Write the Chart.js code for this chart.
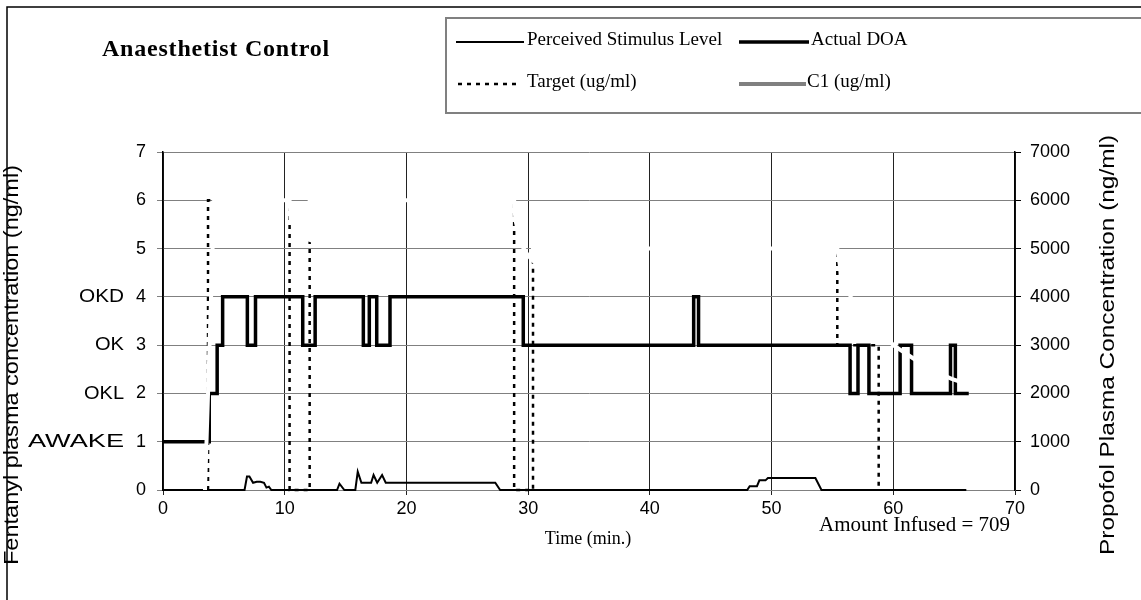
<!DOCTYPE html>
<html><head><meta charset="utf-8">
<script src="https://cdn.jsdelivr.net/npm/chart.js@4.4.1/dist/chart.umd.min.js"></script>
<style>html,body{margin:0;padding:0;background:#fff;overflow:hidden}#wrap{width:1141px;height:600px;position:relative}</style>
</head><body><div id="wrap"><canvas id="c" width="1141" height="600"></canvas></div>
<script>
// ---- texts ----
const chartTitle = 'Anaesthetist Control';
const xTitle = 'Time (min.)';
const yLeftTitle = 'Fentanyl plasma concentration (ng/ml)';
const yRightTitle = 'Propofol Plasma Concentration (ng/ml)';
const infusedNote = 'Amount Infused = 709';
const seriesNames = ['Perceived Stimulus Level', 'Actual DOA', 'Target (ug/ml)', 'C1 (ug/ml)'];
const doaLevels = [1, 2, 3, 4];
const doaLabels = ['AWAKE', 'OKL', 'OK', 'OKD'];
// ---- ticks ----
const xTicks = [0, 10, 20, 30, 40, 50, 60, 70];
const yLeftTicks = [0, 1, 2, 3, 4, 5, 6, 7];
const yRightTicks = [0, 1000, 2000, 3000, 4000, 5000, 6000, 7000];
// ---- series ----
const stimulusTime  = [0, 6.7, 6.9, 7.1, 7.4, 7.7, 8.0, 8.3, 8.5, 8.7, 8.9, 14.3, 14.5, 14.9, 15.8, 16.0, 16.3, 17.1, 17.3, 17.6, 18.0, 18.3, 27.3, 27.7, 48.0, 48.2, 48.8, 49.0, 49.5, 49.7, 53.6, 54.1, 66.0];
const stimulusValue = [0, 0,   0.28,0.28,0.15,0.17,0.17,0.15,0.05,0.07,0,  0,    0.13, 0,    0,    0.38, 0.15, 0.15, 0.31, 0.15, 0.31, 0.15, 0.15, 0,    0,    0.08, 0.08, 0.2,  0.2,  0.25, 0.25, 0,    0];
const doaTime  = [0, 3.8, 3.8, 4.45, 4.45, 4.9, 4.9, 6.93, 6.93, 7.6, 7.6, 11.48, 11.48, 12.5, 12.5, 16.46, 16.46, 16.95, 16.95, 17.56, 17.56, 18.65, 18.65, 29.6, 29.6, 43.6, 43.6, 44.0, 44.0, 56.45, 56.45, 57.1, 57.1, 58.0, 58.0, 60.56, 60.56, 61.5, 61.5, 64.7, 64.7, 65.1, 65.1, 66.2];
const doaValue = [1, 1,   2,   2,    3,    3,   4,   4,    3,    3,   4,   4,     3,     3,    4,    4,     3,     3,     4,     4,     3,     3,     4,     4,    3,    3,    4,    4,    3,    3,     2,     2,    3,    3,    2,    2,     3,     3,    2,    2,    3,    3,    2,    2];
const targetTime  = [3.7, 3.7, 10.4, 10.4, 12.05, 12.05, 28.85, 28.85, 30.4, 30.4, 55.4, 55.4, 58.8, 58.8];
const targetValue = [0,   6,   6,    0,    0,     6,     6,     0,     0,    5,    5,    3,    3,    0];
const c1Time  = [3.45, 4.2, 10.4, 10.5, 10.9, 11.5, 12.05, 12.05, 28.85, 28.95, 29.4, 30.0, 30.4, 30.4, 55.4, 55.7, 56.5, 57.5, 58.8, 60.0, 61.5, 63.0, 64.8, 66.0];
const c1Value = [0,    6,   6,    5.6,  5.35, 5.22, 5.18,  6,     6,     5.6,   5.1,  4.85, 4.75, 5,    5,    4.5,  4.0,  3.65, 3.35, 3.0,  2.75, 2.5,  2.3,  2.2];

const pts = (xs, ys) => xs.map((x, i) => ({x, y: ys[i]}));
const SANS = '"Liberation Sans", Arial, sans-serif';
const SERIF = '"Liberation Serif", "Times New Roman", serif';

const datasets = [
  {label: seriesNames[0], data: pts(stimulusTime, stimulusValue), borderColor: '#000', borderWidth: 2, order: 3},
  {label: seriesNames[1], data: pts(doaTime, doaValue), borderColor: '#000', borderWidth: 3.5, order: 1},
  {label: seriesNames[2], data: pts(targetTime, targetValue), borderColor: '#000', borderWidth: 2.5, borderDash: [4, 5], order: 2},
  {label: seriesNames[3], data: pts(c1Time, c1Value), borderColor: '#ffffff', legendColor: '#808080', borderWidth: 4, order: 0}
].map(d => Object.assign({pointRadius: 0, tension: 0, fill: false, borderJoinStyle: 'miter', borderCapStyle: 'butt', spanGaps: true, clip: 6}, d));

// draw text stretched/squeezed to a given length along its baseline
function fitText(ctx, text, x, y, len) {
  const w = ctx.measureText(text).width;
  ctx.save(); ctx.translate(x, y); ctx.scale(len / w, 1); ctx.fillText(text, 0, 0); ctx.restore();
}

const decor = {
  id: 'decor',
  afterDraw(chart) {
    const ctx = chart.ctx;
    const yS = chart.scales.y;
    ctx.save();
    // outer frame
    ctx.strokeStyle = '#000'; ctx.lineWidth = 1.5;
    ctx.beginPath(); ctx.moveTo(7, 600); ctx.lineTo(7, 7); ctx.lineTo(1141, 7); ctx.stroke();
    // legend box
    ctx.strokeStyle = '#808080'; ctx.lineWidth = 2;
    ctx.strokeRect(446, 18, 720, 95);
    // legend entries
    const entries = [
      {ds: 0, x1: 456, x2: 524, tx: 527, y: 45},
      {ds: 1, x1: 739, x2: 809, tx: 811, y: 45},
      {ds: 2, x1: 458, x2: 520, tx: 527, y: 87},
      {ds: 3, x1: 739, x2: 806, tx: 807, y: 87}
    ];
    ctx.font = '19px ' + SERIF; ctx.textBaseline = 'alphabetic'; ctx.textAlign = 'left';
    entries.forEach(e => {
      const d = chart.data.datasets[e.ds];
      ctx.save();
      ctx.strokeStyle = d.legendColor || d.borderColor;
      ctx.lineWidth = d.borderWidth;
      ctx.setLineDash(d.borderDash || []);
      ctx.beginPath(); ctx.moveTo(e.x1, e.y - 3); ctx.lineTo(e.x2, e.y - 3); ctx.stroke();
      ctx.restore();
      ctx.fillStyle = '#000';
      ctx.fillText(d.label, e.tx, e.y);
    });
    // title
    ctx.font = 'bold 24px ' + SERIF;
    ctx.textAlign = 'left'; ctx.fillStyle = '#000';
    const tw = ctx.measureText(chartTitle).width;
    ctx.letterSpacing = Math.max(0, (228 - tw) / chartTitle.length) + 'px';
    ctx.fillText(chartTitle, 102, 56);
    ctx.letterSpacing = '0px';
    // DOA category labels
    ctx.font = '19px ' + SANS; ctx.textAlign = 'left'; ctx.textBaseline = 'middle';
    const labelW = [96, 40, 29, 45];
    doaLevels.forEach((v, i) => fitText(ctx, doaLabels[i], 124 - labelW[i], yS.getPixelForValue(v), labelW[i]));
    // axis titles (rotated, reading bottom to top)
    ctx.font = '21px ' + SANS; ctx.textAlign = 'left';
    ctx.save(); ctx.translate(12, 565); ctx.rotate(-Math.PI / 2); fitText(ctx, yLeftTitle, 0, 0, 400); ctx.restore();
    ctx.save(); ctx.translate(1108, 555); ctx.rotate(-Math.PI / 2); fitText(ctx, yRightTitle, 0, 0, 420); ctx.restore();
    ctx.textBaseline = 'alphabetic';
    ctx.font = '18px ' + SERIF; ctx.textAlign = 'center';
    ctx.fillText(xTitle, 588, 544);
    ctx.font = '21px ' + SERIF; ctx.textAlign = 'right';
    ctx.fillText(infusedNote, 1010, 531);
    ctx.restore();
  }
};

new Chart(document.getElementById('c'), {
  type: 'line',
  data: {datasets},
  plugins: [decor],
  options: {
    responsive: false, animation: false, devicePixelRatio: 1,
    layout: {padding: {top: 152, left: 0, right: 0, bottom: 0}},
    plugins: {legend: {display: false}, title: {display: false}, tooltip: {enabled: false}},
    scales: {
      x: {
        type: 'linear', min: xTicks[0], max: xTicks[xTicks.length - 1],
        afterBuildTicks: s => { s.ticks = xTicks.map(v => ({value: v})); },
        afterFit: s => { s.height = 110; },
        grid: {color: '#222', lineWidth: 1, tickLength: 5, drawTicks: true},
        border: {color: '#808080', width: 1},
        ticks: {color: '#000', font: {family: SANS, size: 18}, padding: 3, maxRotation: 0, callback: v => String(v)}
      },
      y: {
        position: 'left', min: 0, max: 7,
        afterBuildTicks: s => { s.ticks = yLeftTicks.map(v => ({value: v})); },
        afterFit: s => { s.width = 163; },
        grid: {color: '#808080', lineWidth: 1, tickLength: 6},
        border: {color: '#000', width: 1.5},
        ticks: {color: '#000', font: {family: SANS, size: 18}, padding: 11, callback: v => String(v)}
      },
      y2: {
        position: 'right', min: 0, max: 7000,
        afterBuildTicks: s => { s.ticks = yRightTicks.map(v => ({value: v})); },
        afterFit: s => { s.width = 126; },
        grid: {drawOnChartArea: false, color: '#000', tickLength: 6},
        border: {color: '#000', width: 1.5},
        ticks: {color: '#000', font: {family: SANS, size: 18}, padding: 9, callback: v => String(v)}
      }
    }
  }
});
</script></body></html>
